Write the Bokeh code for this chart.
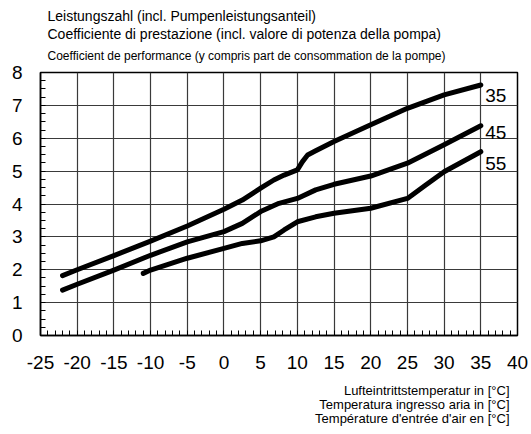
from bokeh.plotting import figure
from bokeh.models import FixedTicker, Label, Range1d, Title
from bokeh.embed import file_html
from bokeh.resources import INLINE

# Data
temps_35 = [-22, -20, -15, -10, -5, 0, 2.5, 5, 6.8, 8.2, 10, 10.7, 11.4, 12.5, 15, 20, 25, 30, 35]
cop_35 = [1.82, 2.0, 2.43, 2.87, 3.33, 3.84, 4.12, 4.48, 4.73, 4.88, 5.04, 5.29, 5.49, 5.62, 5.90, 6.41, 6.91, 7.32, 7.62]

temps_45 = [-22, -20, -15, -10, -5, 0, 2.5, 5, 7.5, 10, 12.5, 15, 20, 25, 30, 35]
cop_45 = [1.38, 1.56, 1.99, 2.44, 2.85, 3.16, 3.41, 3.77, 4.02, 4.17, 4.43, 4.60, 4.85, 5.24, 5.80, 6.38]

temps_55 = [-11, -10, -5, 0, 2.5, 5, 6.8, 8.2, 10, 12.5, 15, 20, 25, 27.5, 30, 35]
cop_55 = [1.89, 1.99, 2.35, 2.65, 2.80, 2.88, 3.0, 3.21, 3.46, 3.61, 3.72, 3.87, 4.17, 4.58, 4.98, 5.59]

series_names = ["35", "45", "55"]

x_major = list(range(-25, 41, 5))
x_minor = list(range(-25, 41, 1))
x_tick_labels = ["-25", "-20", "-15", "-10", "-5", "0", "5", "10", "15", "20", "25", "30", "35", "40"]
y_major = list(range(0, 9, 1))
y_minor = [i * 0.25 for i in range(0, 33)]

title_lines = [
    "Leistungszahl (incl. Pumpenleistungsanteil)",
    "Coefficiente di prestazione (incl. valore di potenza della pompa)",
    "Coefficient de performance (y compris part de consommation de la pompe)",
]
xtitle_lines = [
    "Lufteintrittstemperatur in [°C]",
    "Temperatura ingresso aria in [°C]",
    "Température d'entrée d'air en [°C]",
]

FONT = "Liberation Sans"

p = figure(width=531, height=434, output_backend="svg", toolbar_location=None,
           x_range=Range1d(-25, 40), y_range=Range1d(0, 8), title_location=None,
           min_border_left=40, min_border_right=14, min_border_top=72, min_border_bottom=99)
p.background_fill_color = "white"
p.border_fill_color = "white"
p.outline_line_color = "black"
p.outline_line_width = 1.5

p.xaxis.ticker = FixedTicker(ticks=x_major, minor_ticks=x_minor)
p.yaxis.ticker = FixedTicker(ticks=y_major, minor_ticks=y_minor)
p.xaxis.major_label_overrides = {v: s for v, s in zip(x_major, x_tick_labels)}

for ax in (p.xaxis[0], p.yaxis[0]):
    ax.axis_line_color = "black"
    ax.axis_line_width = 1.5
    ax.major_tick_in = 0
    ax.major_tick_out = 0
    ax.minor_tick_in = 5
    ax.minor_tick_out = 0
    ax.minor_tick_line_color = "black"
    ax.major_label_text_font = FONT
    ax.major_label_text_color = "black"

p.xaxis.major_label_text_font_size = "19px"
p.yaxis.major_label_text_font_size = "19px"
p.xaxis.major_label_standoff = 20
p.yaxis.major_label_standoff = 18

p.xgrid.grid_line_color = "#3a3a3a"
p.ygrid.grid_line_color = "#3a3a3a"
p.xgrid.grid_line_width = 1.2
p.ygrid.grid_line_width = 1.2

for xs, ys in ((temps_35, cop_35), (temps_45, cop_45), (temps_55, cop_55)):
    p.line(xs, ys, line_color="black", line_width=5, line_cap="round", line_join="round")

# series labels at curve ends
label_shift = {"35": -0.33, "45": -0.2, "55": -0.36}
for name, ys in zip(series_names, (cop_35, cop_45, cop_55)):
    p.add_layout(Label(x=35.6, y=ys[-1] + label_shift[name],
                       text=name, text_font=FONT, text_font_size="19px",
                       text_color="black", text_baseline="middle", text_align="left"))


def spacer(standoff):
    return Title(text=" ", text_font_size="1px", standoff=standoff, text_color="white")


def title_line(t, size, align="left", offset=7, standoff=0):
    return Title(text=t, align=align, offset=offset, text_font=FONT, text_font_size=size,
                 text_font_style="normal", text_color="black", standoff=standoff)


# above panels: the first added sits nearest to the frame
p.add_layout(spacer(7), "above")
p.add_layout(title_line(title_lines[2], "12px"), "above")
p.add_layout(spacer(2), "above")
p.add_layout(title_line(title_lines[1], "14px"), "above")
p.add_layout(title_line(title_lines[0], "14px"), "above")

# x axis description, right aligned, three lines (below the axis, outward)
p.add_layout(spacer(8), "below")
for t in xtitle_lines:
    p.add_layout(title_line(t, "13px", align="right", offset=8, standoff=-3.5), "below")

open("out.html", "w").write(file_html(p, INLINE))
